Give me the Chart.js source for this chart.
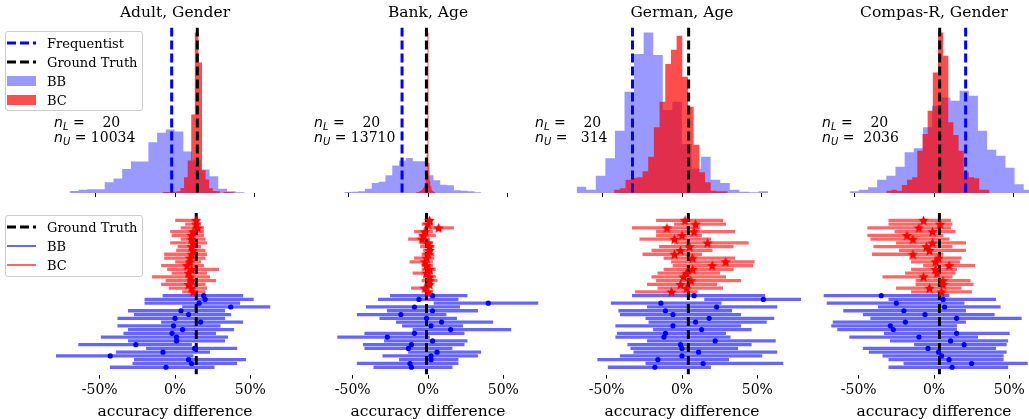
<!DOCTYPE html>
<html><head><meta charset="UTF-8"/>
<title>accuracy difference</title>
<script src="https://cdn.jsdelivr.net/npm/chart.js"></script>
<style>
* { margin: 0; padding: 0; box-sizing: border-box; }
body { background: #fff; width: 1029px; height: 419px; overflow: hidden; position: relative; font-family: 'DejaVu Serif', serif; color: #000; }
canvas { position: absolute; }
.legend { position: absolute; left: 5px; width: 138px; background: rgba(255,255,255,0.8); border: 1px solid #cccccc; border-radius: 3px; z-index: 2; }
.legend .row { position: absolute; left: 0; height: 16px; display: flex; align-items: center; font-size: 13px; white-space: nowrap; }
.legend svg { margin-left: 1px; margin-right: 11px; }
.note { position: absolute; font-size: 14px; line-height: 15px; white-space: pre; z-index: 2; }
.note i { font-family: 'DejaVu Sans', sans-serif; }
.note sub { font-family: 'DejaVu Sans', sans-serif; font-style: italic; font-size: 10px; line-height: 0; vertical-align: -3px; }
</style>
</head>
<body>

<div class="legend" style="top:31px;height:80px">
    <div class="row" style="top:3px"><svg width="29" height="10"><line x1="0" y1="5" x2="29" y2="5" stroke="#0000ff" stroke-width="3" stroke-dasharray="9 4"/></svg>Frequentist</div>
    <div class="row" style="top:22px"><svg width="29" height="10"><line x1="0" y1="5" x2="29" y2="5" stroke="#000" stroke-width="3" stroke-dasharray="9 4"/></svg>Ground Truth</div>
    <div class="row" style="top:41px"><svg width="29" height="10"><rect x="0" y="0" width="29" height="10" fill="rgba(0,0,255,0.4)"/></svg>BB</div>
    <div class="row" style="top:60px"><svg width="29" height="10"><rect x="0" y="0" width="29" height="10" fill="rgba(255,0,0,0.7)"/></svg>BC</div>
</div>

<div class="legend" style="top:215px;height:62px">
    <div class="row" style="top:3px"><svg width="29" height="10"><line x1="0" y1="5" x2="29" y2="5" stroke="#000" stroke-width="3" stroke-dasharray="9 4"/></svg>Ground Truth</div>
    <div class="row" style="top:22px"><svg width="29" height="10"><line x1="0" y1="5" x2="29" y2="5" stroke="rgba(0,0,255,0.6)" stroke-width="2"/></svg>BB</div>
    <div class="row" style="top:41px"><svg width="29" height="10"><line x1="0" y1="5" x2="29" y2="5" stroke="rgba(255,0,0,0.6)" stroke-width="2"/></svg>BC</div>
</div>

<script>
const panelTitles = ['Adult, Gender', 'Bank, Age', 'German, Age', 'Compas-R, Gender'];
const nLabeled = [20, 20, 20, 20];
const nUnlabeled = [10034, 13710, 314, 2036];
const groundTruth = [14.1, -1.0, 4.2, 3.6];
const frequentist = [-2.1, -16.4, -31.3, 20.0];
const tickValues = [-50, 0, 50];

// histograms: left edge of first bin, bin width (both in %), bar heights
const bbHistStart = [-66.5, -52.9, -66.6, -53.3];
const bbHistWidth = [5.52, 4.33, 6.05, 5.79];
const bcHistStart = [-7.9, -7.5, -42.9, -30.1];
const bcHistWidth = [2.27, 0.6, 3.59, 3.26];

const bbHistAdult  = [6, 10, 11, 11, 32, 43, 72, 94, 94, 152, 180, 190, 184, 124, 97, 70, 50, 13, 5, 2];
const bcHistAdult  = [3, 3, 3, 4, 5, 15, 47, 97, 235, 480, 390, 68, 40, 14, 6, 5, 0, 3, 3, 2];
const bbHistBank   = [3, 4, 5, 13, 30, 34, 53, 82, 97, 105, 95, 95, 53, 38, 25, 23, 8, 7, 5, 2];
const bcHistBank   = [2, 3, 3, 5, 6, 8, 10, 15, 20, 30, 50, 115, 481, 90, 35, 20, 10, 6, 4, 3];
const bbHistGerman = [19, 10, 52, 104, 187, 304, 417, 482, 414, 249, 274, 147, 73, 109, 40, 30, 10, 4, 2, 5];
const bcHistGerman = [10, 14, 40, 45, 47, 65, 109, 197, 274, 387, 430, 472, 349, 259, 145, 62, 32, 7, 5, 5];
const bbHistCompas = [5, 10, 17, 40, 52, 79, 122, 134, 197, 262, 287, 277, 307, 292, 187, 130, 112, 76, 26, 10];
const bcHistCompas = [7, 10, 7, 24, 40, 47, 127, 177, 247, 362, 482, 412, 212, 174, 127, 62, 47, 44, 10, 10];

// interval estimates, rows from top to bottom (%)
const adultBcLo  = [0, 7, 4, -3, -2, 4, -3, 2, 1, -7, -7, 0, -9, -5, -2, -15, -6, -9, -4, 5];
const adultBcMid = [14, 14, 15, 12, 11, 11, 12, 11, 12, 11, 10, 10, 8, 11, 9, 10, 11, 9, 11, 12];
const adultBcHi  = [16, 17, 19, 19, 19, 20, 21, 17, 20, 21, 20, 17, 19, 29, 21, 23, 27, 20, 21, 20];
const adultBbLo  = [-8, -20, -20, 5, -31, -27, -38, -9, -38, -31, -34, -49, -31, -64, -19, -39, -80, -27, -28, -43];
const adultBbMid = [19, 20, 16, 37, 4, 9, 0, 17, -1, 5, -2, 1, 1, -26, 13, -8, -43, 9, 11, -6];
const adultBbHi  = [45, 52, 43, 63, 33, 37, 33, 45, 30, 39, 27, 35, 33, 11, 41, 23, 12, 47, 41, 26];

const bankBcLo  = [-2, -4, -2, -9, -6, -13, -5, -5, -3, -4, -9, -12, -4, -4, -10, -3, -4, -2, -11, -2];
const bankBcMid = [1, 0, 7, -2, -3, -4, 0, 1, 1, 0, -1, -2, -1, 1, -1, 1, 1, 1, -2, 0];
const bankBcHi  = [3, 3, 17, 3, 5, 1, 3, 4, 3, 4, 4, 3, 3, 5, 3, 5, 6, 3, 1, 3];
const bankBbLo  = [-25, -33, 4, -41, -27, -47, -32, -21, -17, -10, -42, -60, -29, -43, -42, -13, -30, -19, -47, -36];
const bankBbMid = [3, -6, 40, -9, 3, -18, -1, 9, 2, 15, -9, -27, 3, -11, -13, 6, 2, 2, -12, -11];
const bankBbHi  = [26, 20, 73, 21, 33, 12, 19, 43, 23, 55, 24, 1, 26, 24, 16, 35, 33, 20, 20, 16];

const germanBcLo  = [-17, -5, -33, -17, -17, -28, -5, -15, -20, -26, -12, -7, -6, -12, -16, -20, -17, -23, -16, -31];
const germanBcMid = [2, 9, -10, 8, 0, -5, 17, 5, -1, -5, 7, 29, 20, 7, 3, 1, 6, -1, 3, -7];
const germanBcHi  = [27, 29, 12, 35, 13, 19, 44, 34, 20, 13, 35, 48, 47, 34, 25, 29, 39, 23, 27, 10];
const germanBbLo  = [-33, 15, -47, -23, -42, -41, -24, -22, -44, -19, -43, -44, -23, -36, -34, -32, -41, -56, -24, -49];
const germanBbMid = [8, 54, -14, 23, -11, -6, 18, 9, -6, 13, -11, -12, 22, -1, 0, 11, 0, -16, 14, -18];
const germanBbHi  = [55, 82, 26, 63, 33, 39, 61, 56, 39, 46, 29, 32, 62, 46, 37, 63, 53, 31, 67, 19];

const compasBcLo  = [-30, -30, -44, -26, -44, -42, -25, -40, -23, -41, -16, -15, -7, -15, -19, -34, -12, -12, -25, -15];
const compasBcMid = [-7, 4, -10, -1, -18, -14, -1, -5, -3, -14, 3, 1, 10, 1, 2, -7, 6, 6, -3, 5];
const compasBcHi  = [11, 12, 11, 14, 6, 10, 21, 12, 21, 6, 18, 17, 27, 15, 14, 12, 24, 26, 18, 25];
const compasBbLo  = [-73, -30, -71, -37, -60, -47, -42, -67, -68, -64, -33, -56, -29, -13, -47, -43, -34, -30, -20, -30];
const compasBbMid = [-35, 6, -25, 7, -20, -6, 15, -19, -29, -27, 15, -10, 11, 20, -4, 3, 5, 10, 25, 12];
const compasBbHi  = [10, 41, 20, 44, 21, 40, 58, 21, 15, 15, 50, 29, 49, 48, 41, 48, 46, 46, 62, 49];

const bbHists = [bbHistAdult, bbHistBank, bbHistGerman, bbHistCompas];
const bcHists = [bcHistAdult, bcHistBank, bcHistGerman, bcHistCompas];
const bcIntervals = [
    [adultBcLo, adultBcMid, adultBcHi], [bankBcLo, bankBcMid, bankBcHi],
    [germanBcLo, germanBcMid, germanBcHi], [compasBcLo, compasBcMid, compasBcHi]
];
const bbIntervals = [
    [adultBbLo, adultBbMid, adultBbHi], [bankBbLo, bankBbMid, bankBbHi],
    [germanBbLo, germanBbMid, germanBbHi], [compasBbLo, compasBbMid, compasBbHi]
];

// layout
const xMin = -79, xMax = 79;
const panelWidth = 250;
const zeroPixel = [175, 428, 682, 934];
const noteLeft = [54, 314, 535, 822];

Chart.defaults.font.family = 'DejaVu Serif';
Chart.defaults.color = '#000';

function makeCanvas(left, top, w, h) {
    const cv = document.createElement('canvas');
    cv.width = w; cv.height = h;
    cv.style.left = left + 'px'; cv.style.top = top + 'px';
    cv.style.width = w + 'px'; cv.style.height = h + 'px';
    document.body.appendChild(cv);
    return cv;
}

function histSteps(start, width, heights) {
    const pts = heights.map((h, k) => ({ x: start + k * width, y: h }));
    pts.push({ x: start + heights.length * width, y: 0 });
    return pts;
}

function starStyle(size, color) {
    const c = document.createElement('canvas');
    c.width = size; c.height = size;
    const g = c.getContext('2d');
    const R = size / 2, r = R * 0.45;
    g.fillStyle = color;
    g.beginPath();
    for (let k = 0; k < 10; k++) {
        const a = -Math.PI / 2 + k * Math.PI / 5;
        const rad = k % 2 ? r : R;
        g.lineTo(R + rad * Math.cos(a), R + 0.5 + rad * Math.sin(a));
    }
    g.closePath();
    g.fill();
    return c;
}
const redStar = starStyle(11, '#ff0000');

function xAxis(withLabels) {
    return {
        type: 'linear', min: xMin, max: xMax,
        border: { display: false },
        grid: { drawOnChartArea: false, drawTicks: true, tickLength: 4, color: '#000', lineWidth: 1 },
        ticks: { display: withLabels, padding: 3, maxRotation: 0, font: { size: 14 }, color: '#000', callback: v => v + '%' },
        afterBuildTicks: axis => { axis.ticks = tickValues.map(v => ({ value: v })); },
        title: { display: withLabels, text: 'accuracy difference', font: { size: 15.5 }, color: '#000', padding: { top: 1, bottom: 0 } }
    };
}

function vline(label, x, y0, y1, color, order) {
    return {
        type: 'line', label, data: [{ x, y: y0 }, { x, y: y1 }],
        borderColor: color, borderWidth: 3, borderDash: [9, 4],
        pointRadius: 0, fill: false, order
    };
}

const baseOptions = {
    responsive: false, animation: false, events: [], devicePixelRatio: 1
};

panelTitles.forEach((title, c) => {
    const left = zeroPixel[c] - panelWidth / 2;

    // top row: posterior histograms
    const hMax = Math.max(...bbHists[c], ...bcHists[c]) * 1.03;
    new Chart(makeCanvas(left, 0, panelWidth, 199), {
        type: 'line',
        data: {
            datasets: [
                vline('Frequentist', frequentist[c], hMax, 0, '#0000ff', 0),
                vline('Ground Truth', groundTruth[c], hMax, 0, '#000000', 0),
                {
                    label: 'BC', data: histSteps(bcHistStart[c], bcHistWidth[c], bcHists[c]),
                    stepped: true, fill: 'origin', backgroundColor: 'rgba(255,0,0,0.7)',
                    borderColor: 'rgba(0,0,0,0)', borderWidth: 0, pointRadius: 0, order: 1
                },
                {
                    label: 'BB', data: histSteps(bbHistStart[c], bbHistWidth[c], bbHists[c]),
                    stepped: true, fill: 'origin', backgroundColor: 'rgba(0,0,255,0.4)',
                    borderColor: 'rgba(0,0,0,0)', borderWidth: 0, pointRadius: 0, order: 2
                }
            ]
        },
        options: {
            ...baseOptions,
            layout: { padding: { top: 0, bottom: 2, left: 0, right: 0 } },
            plugins: {
                legend: { display: false }, tooltip: { enabled: false },
                title: { display: true, text: title, font: { size: 15.5, weight: 'normal' }, color: '#000', padding: { top: 4, bottom: 5 } }
            },
            scales: { x: xAxis(false), y: { type: 'linear', min: 0, max: hMax, display: false } }
        }
    });

    // bottom row: interval estimates
    const [bcLo, bcMid, bcHi] = bcIntervals[c];
    const [bbLo, bbMid, bbHi] = bbIntervals[c];
    const nRows = bcLo.length + bbLo.length;
    const yTop = -0.05 * (nRows - 1), yBottom = (nRows - 1) * 1.05;
    new Chart(makeCanvas(left, 207, panelWidth, 214), {
        type: 'bar',
        data: {
            datasets: [
                { type: 'scatter', label: 'BC', data: bcMid.map((v, i) => ({ x: v, y: i })), pointStyle: redStar, pointRadius: 5, order: 0 },
                { type: 'scatter', label: 'BB', data: bbMid.map((v, i) => ({ x: v, y: bcLo.length + i })), pointStyle: 'circle', pointRadius: 2.6, backgroundColor: '#0000ff', borderWidth: 0, order: 0 },
                vline('Ground Truth', groundTruth[c], yTop, yBottom, '#000000', 1),
                { label: 'BC', data: bcLo.map((v, i) => ({ x: [v, bcHi[i]], y: i })), backgroundColor: 'rgba(255,0,0,0.6)', barThickness: 2.6, grouped: false, borderWidth: 0, order: 2 },
                { label: 'BB', data: bbLo.map((v, i) => ({ x: [v, bbHi[i]], y: bcLo.length + i })), backgroundColor: 'rgba(0,0,255,0.6)', barThickness: 2.6, grouped: false, borderWidth: 0, order: 2 }
            ]
        },
        options: {
            ...baseOptions,
            indexAxis: 'y',
            layout: { padding: { top: 4.5, bottom: 0, left: 0, right: 0 } },
            plugins: { legend: { display: false }, tooltip: { enabled: false } },
            scales: {
                x: xAxis(true),
                y: { type: 'linear', min: yTop, max: yBottom, reverse: true, offset: false, display: false }
            }
        }
    });

    // sample size note
    const note = document.createElement('div');
    note.className = 'note';
    note.style.left = noteLeft[c] + 'px';
    note.style.top = '115px';
    note.innerHTML = '<i>n</i><sub>L</sub> = ' + String(nLabeled[c]).padStart(5, ' ') +
        '\n<i>n</i><sub>U</sub> = ' + String(nUnlabeled[c]).padStart(5, ' ');
    document.body.appendChild(note);
});
</script>
</body></html>
